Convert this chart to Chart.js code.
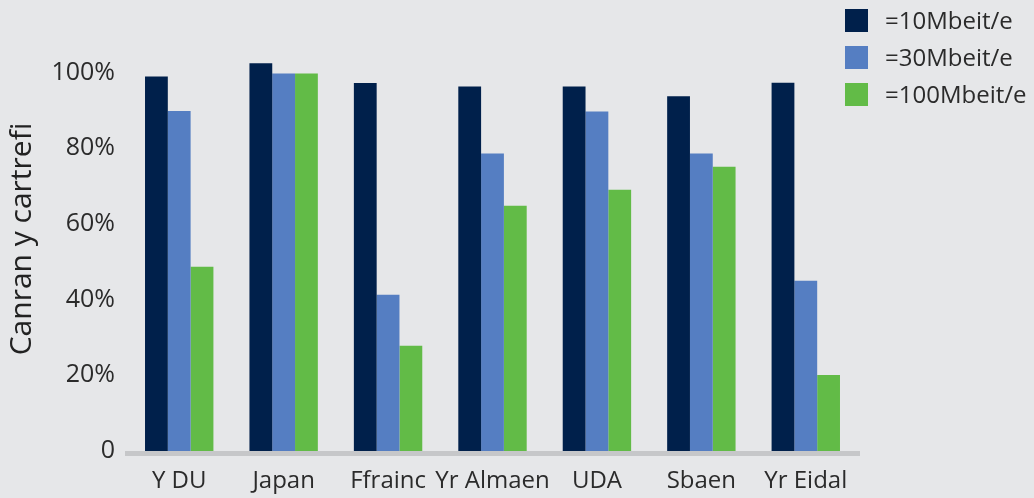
<!DOCTYPE html>
<html>
<head>
<meta charset="utf-8">
<script src="https://cdn.jsdelivr.net/npm/chart.js@4.4.1/dist/chart.umd.min.js"></script>
<style>
  html, body { margin: 0; padding: 0; background: #e6e7e9; }
  #wrap { position: relative; width: 1034px; height: 498px; }
  .lg { position: absolute; left: 845px; font-family: "Open Sans", sans-serif; font-size: 24px; color: #2b2b2b; }
  .lg span.box { position: absolute; left: 0; top: 0; width: 23px; height: 23px; }
  .lg span.txt { position: absolute; left: 40px; top: -6px; white-space: nowrap; }
</style>
</head>
<body>
<div id="wrap">
  <canvas id="ch"></canvas>
  <div id="legend"></div>
</div>
<script>
let categories = ['Y DU','Japan','Ffrainc','Yr Almaen','UDA','Sbaen','Yr Eidal'];
let seriesNames = ['=10Mbeit/e','=30Mbeit/e','=100Mbeit/e'];
let speed10 = [98.9, 102.4, 97.2, 96.3, 96.3, 93.7, 97.3];
let speed30 = [89.8, 99.7, 41.3, 78.6, 89.7, 78.6, 45];
let speed100 = [48.7, 99.7, 27.8, 64.8, 69, 75.1, 20.1];
let yTicks = [0, 20, 40, 60, 80, 100];

let colors = ['#00204b', '#557ec2', '#62bb47'];
let txtColor = '#2b2b2b';

// legend in html, top right
let legendTops = [9, 46, 83];
let lg = document.getElementById('legend');
seriesNames.forEach(function(n, i){
    let d = document.createElement('div');
    d.className = 'lg';
    d.style.top = legendTops[i] + 'px';
    d.innerHTML = '<span class="box" style="background:' + colors[i] + '"></span><span class="txt">' + n + '</span>';
    lg.appendChild(d);
});

// thick grey baseline under the bars
const baseLine = {
    id: 'baseLine',
    beforeDatasetsDraw(chart) {
        const a = chart.chartArea, c = chart.ctx;
        c.save();
        c.fillStyle = '#c6c7c9';
        c.fillRect(a.left - 2, a.bottom, a.right - a.left + 4, 5);
        c.restore();
    }
};

var ctx = document.getElementById('ch').getContext('2d');
var myChart = new Chart(ctx, {
    type: 'bar',
    data: {
        labels: categories,
        datasets: [
            { label: seriesNames[0], data: speed10, backgroundColor: colors[0] },
            { label: seriesNames[1], data: speed30, backgroundColor: colors[1] },
            { label: seriesNames[2], data: speed100, backgroundColor: colors[2] }
        ]
    },
    options: {
        responsive: true,
        maintainAspectRatio: false,
        animation: false,
        layout: { padding: { top: 14, right: 176, left: 0, bottom: 0 } },
        datasets: { bar: { categoryPercentage: 0.655, barPercentage: 1, borderWidth: 0 } },
        scales: {
            x: {
                grid: { display: false, drawTicks: false },
                border: { display: false },
                ticks: { color: txtColor, padding: 16, autoSkip: false, font: { family: 'Open Sans', size: 24 }, maxRotation: 0 },
                afterFit: function(s){ s.height = 47; }
            },
            y: {
                min: 0,
                max: 112,
                grid: { display: false, drawTicks: false },
                border: { display: false },
                afterBuildTicks: function(s){ s.ticks = yTicks.map(function(v){ return { value: v }; }); },
                ticks: {
                    color: txtColor,
                    padding: 12,
                    font: { family: 'Open Sans', size: 25 },
                    callback: function(v){ return v === 0 ? '0' : v + '%'; }
                },
                title: {
                    display: true,
                    text: 'Canran y cartrefi',
                    color: '#222',
                    font: { family: 'Open Sans', size: 30 },
                    padding: { top: 4, bottom: 4 }
                },
                afterFit: function(s){ s.width = 127; }
            }
        },
        plugins: {
            legend: { display: false },
            tooltip: { enabled: false }
        }
    },
    plugins: [baseLine]
});
</script>
</body>
</html>
